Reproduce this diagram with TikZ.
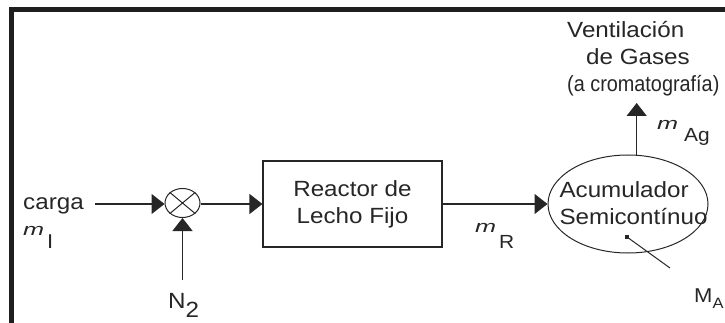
\documentclass[tikz,border=0pt]{standalone}
\usepackage{graphicx}
\usepackage{fontspec}
\setmainfont{Liberation Sans}[FakeStretch=1.1]
\usetikzlibrary{arrows.meta,shapes.geometric}
\newcommand\flowm{\scalebox{1.35}[1]{\fontsize{17}{17}\selectfont\itshape m}}
\begin{document}
\begin{tikzpicture}[x=1pt,y=-1pt,
  font=\fontsize{22}{27}\selectfont,
  ink/.style={draw=black!85},
  flow/.style={ink,line width=1.4pt,-{Triangle[length=13pt,width=20pt]}},
  frameline/.style={draw=black!88,line width=4.5pt},
  label/.style={anchor=base west,inner sep=0pt,text=black!85},
  txt/.style={inner sep=0pt,text=black!85}]
\useasboundingbox (0,0) rectangle (725,323);
% frame
\draw[frameline] (725,9.5) -- (11.5,9.5) -- (11.5,323);
% blocks
\node[ink,line width=1.2pt,minimum width=179pt,minimum height=86pt,inner sep=0pt,
      align=center,text=black!85] (reactor) at (352.5,204) {Reactor de\\Lecho Fijo};
\node[ink,ellipse,line width=1pt,minimum width=35pt,minimum height=29pt,inner sep=0pt] (sum) at (182.5,203) {};
\draw[ink,line width=1pt] (sum.north west) -- (sum.south east) (sum.north east) -- (sum.south west);
\node[ink,ellipse,line width=1pt,minimum width=160pt,minimum height=98pt,inner sep=0pt] (acum) at (628,204) {};
\node[txt,align=left] (acumtxt) at (633.5,203.5) {Acumulador\\Semicontínuo};
% connectors
\coordinate (cin) at (95,204);
\coordinate (nin) at (182.5,280);
\coordinate (vent) at (636,103);
\draw[flow] (cin) -- (cin -| sum.west);
\draw[flow] (nin) -- (sum);
\draw[flow] (sum.east |- cin) -- (reactor.west |- cin);
\draw[flow] (reactor.east |- cin) -- (acum.west |- cin);
\draw[flow] (acum.80.5) -- (acum.80.5 |- vent);
% M_A pointer
\node[fill=black!85,minimum size=4pt,inner sep=0pt] (dotA) at (627,237) {};
\coordinate (ptrA) at (670,268);
\draw[ink,line width=1pt] (dotA.center) -- (ptrA);
% labels
\node[label] (carga) at (23,210) {carga};
\node[label] (mI) at (23,235) {\flowm\hspace{3pt}\raisebox{-13pt}{\fontsize{20}{20}\selectfont I}};
\node[label] (n2) at (168,308) {N\raisebox{-9pt}{2}};
\node[label] (mR) at (475,232) {\flowm\hspace{3pt}\raisebox{-16pt}{\fontsize{19}{19}\selectfont R}};
\node[label] (mAg) at (657,130) {\flowm\hspace{6pt}\raisebox{-12pt}{\fontsize{19}{19}\selectfont Ag}};
\node[label] (MA) at (694,302) {\fontsize{20}{20}\selectfont M\raisebox{-6pt}{\fontsize{15}{15}\selectfont A}};
\node[txt,anchor=west,align=left] (venttxt) at (567,59) {Ventilación\\\hspace*{19pt}de Gases\\\scalebox{0.82}[1]{(a cromatografía)}};
\end{tikzpicture}
\end{document}
